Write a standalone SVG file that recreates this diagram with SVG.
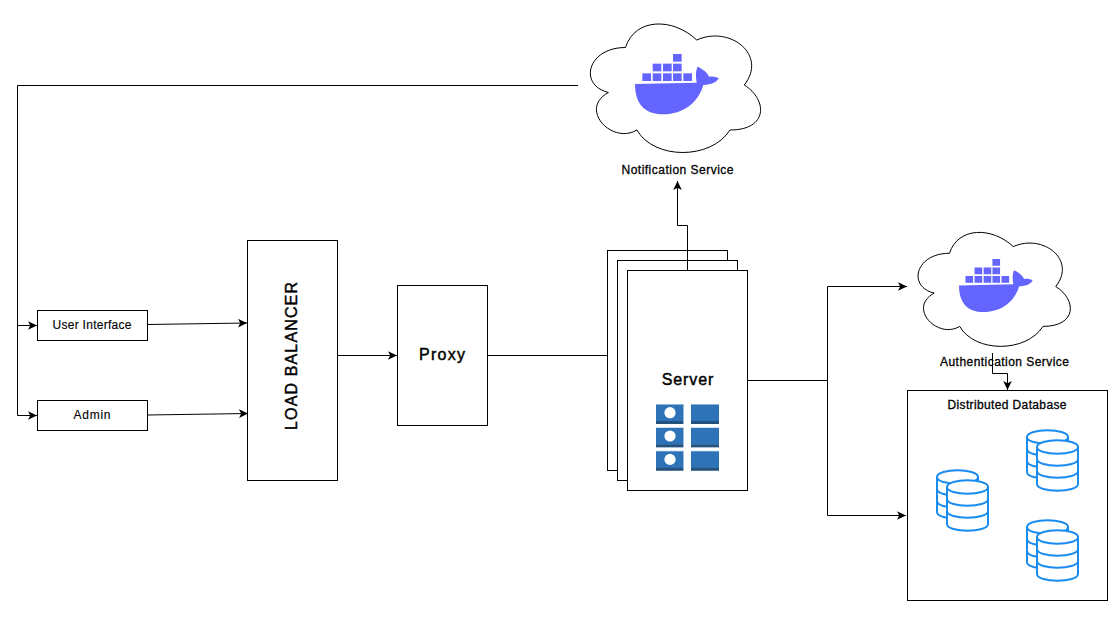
<svg xmlns="http://www.w3.org/2000/svg" width="1118" height="625" viewBox="0 0 1118 625">
<style>
.box{fill:#fff;stroke:#000;stroke-width:1}
.cn{fill:none;stroke:#000;stroke-width:1}
.t{font-family:"Liberation Sans",Arial,sans-serif;fill:#000;text-anchor:middle}
.s12{font-size:12px;stroke:#000;stroke-width:.12}
.b12{font-size:12px;stroke:#000;stroke-width:.3}
.b16{font-size:16px;stroke:#000;stroke-width:.45}
.cyl{fill:#fff;stroke:#1a8cf0;stroke-width:2}
.wb{fill:#6464ff}
.r{fill:#2e73b8}
.rd{fill:#23527f}
</style>
<defs>
<marker id="a" markerUnits="userSpaceOnUse" markerWidth="9" markerHeight="9" refX="9" refY="4.5" orient="auto" viewBox="0 0 9 9"><path d="M0,0.2 L9,4.5 L0,8.8 L2.2,4.5 Z" fill="#000"/></marker>
<g id="whale">
<g transform="scale(0.3333)">
<path class="wb" d="M0,90 L185,86 C182,65 182,50 188,38 C200,44 218,55 222,68 C232,66 244,68 251,73 C245,85 230,92 205,93 C190,145 145,181 85,181 C25,181 0,145 0,90 Z"/>
<rect class="wb" x="22" y="58" width="26" height="23"/><rect class="wb" x="53" y="58" width="26" height="23"/><rect class="wb" x="84" y="58" width="26" height="23"/><rect class="wb" x="114" y="58" width="26" height="23"/><rect class="wb" x="145" y="58" width="26" height="23"/>
<rect class="wb" x="53" y="29" width="26" height="23"/><rect class="wb" x="84" y="29" width="26" height="23"/><rect class="wb" x="114" y="29" width="26" height="23"/>
<rect class="wb" x="114" y="0" width="26" height="23"/>
</g>
</g>
<path id="cloud" d="M47.5,37.5 C9.5,37.5 0,75 30.4,82.5 C0,99 34.2,135 58.9,120 C76,150 133,150 152,120 C190,120 190,90 166.25,75 C190,45 152,15 118.75,30 C95,7.5 57,7.5 47.5,37.5 Z" fill="#fff" stroke="#000" vector-effect="non-scaling-stroke"/>
<g id="dbi">
<path class="cyl" d="M0,7 C0,-2 41,-2 41,7 L41,42 C41,51 0,51 0,42 Z"/><path class="cyl" style="fill:none" d="M0,7 C0,16 41,16 41,7 M0,19 C0,28 41,28 41,19 M0,31 C0,40 41,40 41,31"/>
<path class="cyl" d="M10,17 C10,8 51,8 51,17 L51,54 C51,63 10,63 10,54 Z"/><path class="cyl" style="fill:none" d="M10,17 C10,26 51,26 51,17 M10,29 C10,38 51,38 51,29 M10,41 C10,50 51,50 51,41"/>
</g>
<g id="srow">
<rect x="0" y="0" width="28" height="20" fill="#b9d0e8"/><rect class="r" x="0" y="0.7" width="27.2" height="16.5"/><rect class="rd" x="0" y="17" width="27.2" height="3"/><circle cx="14" cy="8.7" r="5.6" fill="#fff"/>
<rect x="35" y="0" width="28" height="20" fill="#b9d0e8"/><rect class="r" x="35" y="0.7" width="28" height="16.5"/><rect class="rd" x="35" y="17" width="28" height="3"/>
</g>
</defs>

<g id="connectors-back">
<path class="cn" d="M578,85.5 H17.5 V415.5 H37" marker-end="url(#a)"/>
<path class="cn" d="M17.5,325.5 H37" marker-end="url(#a)"/>
<path class="cn" d="M147,324.5 L247,323" marker-end="url(#a)"/>
<path class="cn" d="M147,415 L248,413.5" marker-end="url(#a)"/>
<path class="cn" d="M337.5,355.5 H397" marker-end="url(#a)"/>
<path class="cn" d="M487.5,355.5 H607.5"/>
<path class="cn" d="M747.5,380.5 H827.5 V286.5 H907" marker-end="url(#a)"/>
<path class="cn" d="M827.5,380.5 V515.5 H906" marker-end="url(#a)"/>
</g>

<g id="notification-service">
<use href="#cloud" x="578" y="10"/>
<use href="#whale" transform="translate(635,54)"/>
<text class="t b12" x="677.5" y="174" textLength="112">Notification Service</text>
</g>
<g id="authentication-service">
<use href="#cloud" transform="translate(907,220) scale(0.8947,0.8867)"/>
<use href="#whale" transform="translate(959,259) scale(0.88)"/>
<text class="t b12" x="1004.5" y="366" textLength="129">Authentication Service</text>
</g>

<g id="user-interface"><rect class="box" x="37.5" y="310.5" width="110" height="30"/><text class="t s12" x="92" y="329" textLength="79">User Interface</text></g>
<g id="admin"><rect class="box" x="37.5" y="400.5" width="110" height="30"/><text class="t s12" x="92" y="419" textLength="37">Admin</text></g>
<g id="load-balancer"><rect class="box" x="247.5" y="240.5" width="90" height="240"/><text class="t b16" transform="translate(296.7,356) rotate(-90)" x="0" y="0" textLength="148">LOAD BALANCER</text></g>
<g id="proxy"><rect class="box" x="397.5" y="285.5" width="90" height="140"/><text class="t b16" x="442" y="360" textLength="46">Proxy</text></g>

<g id="server">
<rect class="box" x="607.5" y="250.5" width="120" height="220"/>
<rect class="box" x="617.5" y="260.5" width="120" height="220"/>
<rect class="box" x="627.5" y="270.5" width="120" height="220"/>
<text class="t b16" x="687.5" y="385" textLength="51.5">Server</text>
<use href="#srow" x="656" y="404"/><use href="#srow" x="656" y="427.3"/><use href="#srow" x="656" y="450.7"/>
</g>

<g id="distributed-database">
<rect class="box" x="907.5" y="390.5" width="200" height="210"/>
<text class="t b12" x="1007" y="409" textLength="119">Distributed Database</text>
<use href="#dbi" x="937" y="470"/><use href="#dbi" x="1027" y="430"/><use href="#dbi" x="1027" y="520"/>
</g>

<g id="connectors-front">
<path class="cn" d="M687.5,270 V225.5 H677.5 V181" marker-end="url(#a)"/>
<path class="cn" d="M992.5,353 V373.5 H1007.5 V390" marker-end="url(#a)"/>
</g>
</svg>
